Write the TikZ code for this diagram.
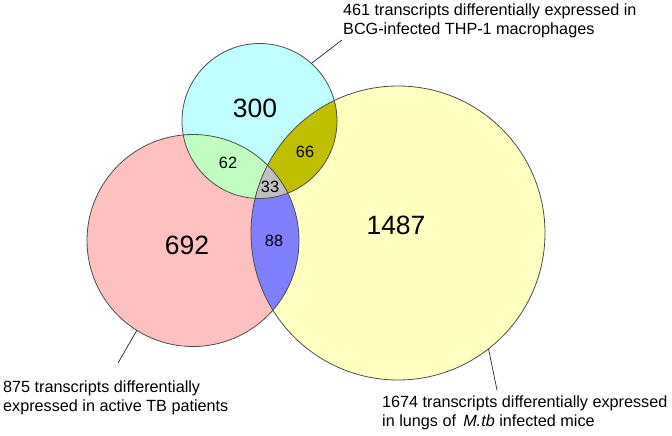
\documentclass[tikz,border=0pt]{standalone}
\usepackage{fontspec}
\setmainfont{Liberation Sans}
\definecolor{cyanF}{RGB}{192,255,255}
\definecolor{pinkF}{RGB}{255,192,192}
\definecolor{yellowF}{RGB}{255,255,192}
\definecolor{greenF}{RGB}{192,255,192}
\definecolor{oliveF}{RGB}{191,191,0}
\definecolor{blueF}{RGB}{128,128,255}
\definecolor{greyF}{RGB}{192,192,192}
\begin{document}
\begin{tikzpicture}[x=1pt,y=-1pt,
  ring/.style={circle, inner sep=0pt, outer sep=0pt, draw=none},
  outline/.style={draw=black!70, line width=0.8pt},
  leader/.style={draw=black!85, line width=0.7pt},
  bignum/.style={inner sep=0pt, font=\fontsize{26.5}{30}\selectfont},
  smallnum/.style={inner sep=0pt, font=\fontsize{16.3}{19}\selectfont},
  lbl/.style={anchor=west, align=left, inner sep=0pt, font=\fontsize{16.2}{19}\selectfont}]
\useasboundingbox (0,0) rectangle (672,436);
\def\rT{77.5}
\def\rL{106}
\def\rM{147}
\coordinate (cT) at (259.5,121);
\coordinate (cL) at (193,240.5);
\coordinate (cM) at (398,233);
% base fills
\fill[pinkF] (cL) circle[radius=\rL];
\fill[cyanF] (cT) circle[radius=\rT];
\fill[yellowF] (cM) circle[radius=\rM];
% pairwise intersections
\begin{scope}
  \clip (cL) circle[radius=\rL];
  \fill[greenF] (cT) circle[radius=\rT];
\end{scope}
\begin{scope}
  \clip (cT) circle[radius=\rT];
  \fill[oliveF] (cM) circle[radius=\rM];
\end{scope}
\begin{scope}
  \clip (cL) circle[radius=\rL];
  \fill[blueF] (cM) circle[radius=\rM];
\end{scope}
\begin{scope}
  \clip (cL) circle[radius=\rL];
  \clip (cT) circle[radius=\rT];
  \fill[greyF] (cM) circle[radius=\rM];
\end{scope}
% outlines
\draw[outline] (cL) circle[radius=\rL];
\draw[outline] (cT) circle[radius=\rT];
\draw[outline] (cM) circle[radius=\rM];
% named ring nodes for leader anchors
\node[ring, minimum size=155pt] (T) at (cT) {};
\node[ring, minimum size=212pt] (L) at (cL) {};
\node[ring, minimum size=294pt] (M) at (cM) {};
% numbers
\node[bignum] (n300) at (255,108) {300};
\node[bignum] (n692) at (187,245) {692};
\node[bignum] (n1487) at (396,225) {1487};
\node[smallnum] (n62) at (228,163) {62};
\node[smallnum] (n66) at (305,152) {66};
\node[smallnum] (n33) at (270,187) {33};
\node[smallnum] (n88) at (274,241) {88};
% labels
\node[lbl] (labT) at (343,21) {461 transcripts differentially expressed in\\BCG-infected THP-1 macrophages};
\node[lbl] (labL) at (3,397.5) {875 transcripts differentially\\expressed in active TB patients};
\node[lbl] (labM) at (382,412.5) {1674 transcripts differentially expressed\\in lungs of\, \textit{M.tb} infected mice};
% leaders
\coordinate (eT) at (342,40);
\coordinate (eL) at (118,363);
\coordinate (eM) at (497,390);
\draw[leader] (T.48) -- (eT);
\draw[leader] (L.238) -- (eL);
\draw[leader] (M.308) -- (eM);
\end{tikzpicture}
\end{document}
